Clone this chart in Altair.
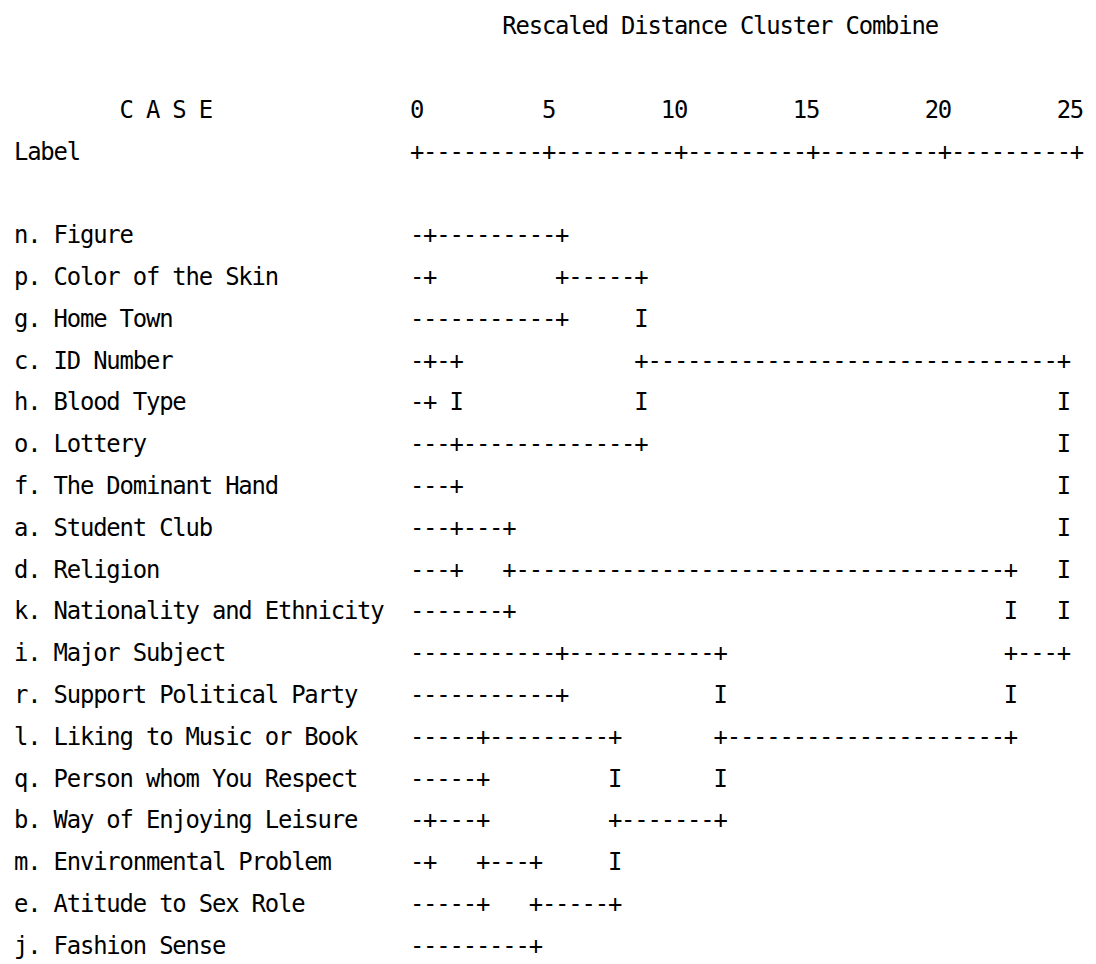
import altair as alt
import pandas as pd

# ---- data ----
title_text = "Rescaled Distance Cluster Combine"
case_header = "C A S E"
label_header = "Label"
tick_values = [0, 5, 10, 15, 20, 25]

case_labels = [
    "n. Figure",
    "p. Color of the Skin",
    "g. Home Town",
    "c. ID Number",
    "h. Blood Type",
    "o. Lottery",
    "f. The Dominant Hand",
    "a. Student Club",
    "d. Religion",
    "k. Nationality and Ethnicity",
    "i. Major Subject",
    "r. Support Political Party",
    "l. Liking to Music or Book",
    "q. Person whom You Respect",
    "b. Way of Enjoying Leisure",
    "m. Environmental Problem",
    "e. Atitude to Sex Role",
    "j. Fashion Sense",
]

# dendrogram rows, one character per half distance unit (column 0 = distance 0)
tree_rows = [
    "-+" + "-" * 9 + "+",
    "-+" + " " * 9 + "+" + "-" * 5 + "+",
    "-" * 11 + "+" + " " * 5 + "I",
    "-+-+" + " " * 13 + "+" + "-" * 31 + "+",
    "-+ I" + " " * 13 + "I" + " " * 31 + "I",
    "---+" + "-" * 13 + "+" + " " * 31 + "I",
    "---+" + " " * 45 + "I",
    "---+---+" + " " * 41 + "I",
    "---+   +" + "-" * 37 + "+   I",
    "-------+" + " " * 37 + "I   I",
    "-" * 11 + "+" + "-" * 11 + "+" + " " * 21 + "+---+",
    "-" * 11 + "+" + " " * 11 + "I" + " " * 21 + "I",
    "-----+" + "-" * 9 + "+" + " " * 7 + "+" + "-" * 21 + "+",
    "-----+" + " " * 9 + "I" + " " * 7 + "I",
    "-+---+" + " " * 9 + "+" + "-" * 7 + "+",
    "-+   +---+" + " " * 5 + "I",
    "-----+   +" + "-" * 5 + "+",
    "-" * 9 + "+",
]

# ---- character grid ----
LABEL_COL = -30   # label column relative to distance 0
chars = []


def put(text, col0, line):
    for i, ch in enumerate(text):
        if ch != " ":
            chars.append({"col": col0 + i, "line": line, "ch": ch})


put(title_text, 7, 0)
put(case_header, -22, 2)
for t in tick_values:
    s = str(t)
    put(s, 2 * t - len(s) + 1, 2)
put(label_header, LABEL_COL, 3)
axis_str = "".join("+" if (c % 10 == 0) else "-" for c in range(0, 2 * max(tick_values) + 1))
put(axis_str, 0, 3)
for k, (lab, row) in enumerate(zip(case_labels, tree_rows)):
    put(lab, LABEL_COL, 5 + k)
    put(row, 0, 5 + k)

df = pd.DataFrame(chars)

W, H = 1085, 954
CW, LH = 13.26, 42.0
x0 = -411 / CW
y0 = -17 / LH

chart = (
    alt.Chart(df)
    .mark_text(
        font="DejaVu Sans Mono",
        fontSize=24,
        baseline="middle",
        align="center",
        color="black",
    )
    .encode(
        x=alt.X("col:Q", scale=alt.Scale(domain=[x0, x0 + W / CW], nice=False, zero=False), axis=None),
        y=alt.Y("line:Q", scale=alt.Scale(domain=[y0, y0 + H / LH], nice=False, zero=False, reverse=True), axis=None),
        text="ch:N",
    )
    .properties(width=W, height=H, autosize=alt.AutoSizeParams(type="none"), padding=0)
    .configure_view(stroke=None)
)

chart.save("out.html", embed_options={"renderer": "svg", "actions": False})
